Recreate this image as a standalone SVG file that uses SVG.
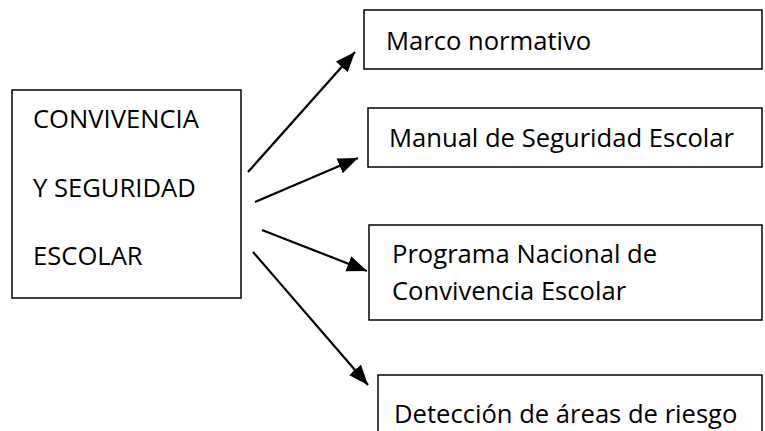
<svg xmlns="http://www.w3.org/2000/svg" width="765" height="431" viewBox="0 0 765 431">
<style>
.box{fill:#fff;stroke:#000;stroke-width:1.5}
.t{font-family:"Open Sans","Liberation Sans",sans-serif;font-size:25.6px;fill:#000}
.c{stroke:#000;stroke-width:2.2;fill:none;marker-end:url(#ah)}
</style>
<defs>
<marker id="ah" markerUnits="userSpaceOnUse" markerWidth="21" markerHeight="17" refX="20" refY="8" orient="auto">
<path d="M0,0 L20,8 L0,16 z" fill="#000"/>
</marker>
</defs>
<rect width="765" height="431" fill="#fff"/>
<g id="main">
<rect class="box" x="12" y="90" width="229" height="208"/>
<text class="t" x="33" y="128">CONVIVENCIA</text>
<text class="t" x="33" y="197">Y SEGURIDAD</text>
<text class="t" x="33" y="265">ESCOLAR</text>
</g>
<g id="marco">
<rect class="box" x="364" y="10" width="398" height="59"/>
<text class="t" x="386" y="50">Marco normativo</text>
</g>
<g id="manual">
<rect class="box" x="368" y="108" width="394" height="59"/>
<text class="t" x="389" y="147">Manual de Seguridad Escolar</text>
</g>
<g id="programa">
<rect class="box" x="369" y="225" width="393" height="95"/>
<text class="t" x="392" y="263">Programa Nacional de</text>
<text class="t" x="392" y="300">Convivencia Escolar</text>
</g>
<g id="deteccion">
<rect class="box" x="378" y="375" width="384" height="70"/>
<text class="t" x="394" y="423">Detección de áreas de riesgo</text>
</g>
<g id="connectors">
<line class="c" x1="248" y1="172" x2="355" y2="52"/>
<line class="c" x1="255" y1="202" x2="358" y2="158"/>
<line class="c" x1="262" y1="230" x2="367" y2="271"/>
<line class="c" x1="253" y1="252" x2="368" y2="385"/>
</g>
</svg>
